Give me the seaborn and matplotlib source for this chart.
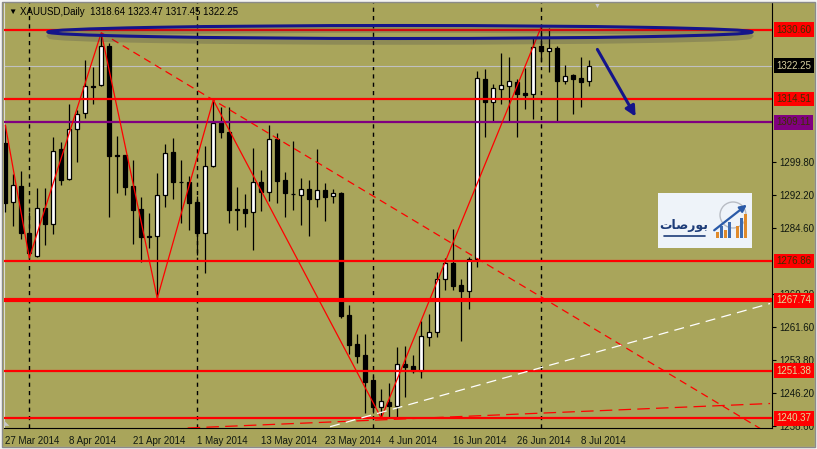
import numpy as np
import pandas as pd
import seaborn as sns
import matplotlib.pyplot as plt
from matplotlib.patches import Ellipse, Rectangle

# XAUUSD daily candles, 27 Mar 2014 .. 9 Jul 2014
opens = [1304.21, 1290.58, 1294.36, 1283.37, 1278.10, 1289.18, 1285.39, 1302.82, 1295.85, 1307.47,
         1311.18, 1317.41, 1317.69, 1326.89, 1301.43, 1301.43, 1294.29, 1288.95, 1282.63, 1282.75,
         1292.20, 1302.12, 1295.22, 1295.29, 1290.51, 1283.30, 1298.94, 1308.86, 1306.77, 1288.95,
         1288.95, 1288.18, 1295.15, 1292.83, 1305.14, 1295.69, 1292.50, 1292.27, 1293.60, 1291.34,
         1293.36, 1292.04, 1292.67, 1264.32, 1257.58, 1255.03, 1249.22, 1243.02, 1244.11, 1243.25,
         1252.94, 1252.47, 1251.38, 1259.28, 1260.30, 1272.62, 1276.33, 1271.29, 1269.97, 1277.26,
         1319.08, 1313.88, 1316.90, 1317.60, 1318.46, 1315.97, 1315.60, 1326.82, 1325.73, 1326.29,
         1318.76, 1320.08, 1319.39, 1318.64]
highs = [1308.47, 1297.08, 1297.78, 1288.32, 1293.83, 1293.83, 1305.75, 1304.52, 1313.35, 1311.95,
         1323.57, 1321.87, 1329.90, 1327.45, 1305.91, 1301.50, 1300.33, 1291.67, 1288.09, 1297.24,
         1303.98, 1305.38, 1300.33, 1296.69, 1291.97, 1303.59, 1314.27, 1312.72, 1312.72, 1293.99,
         1292.37, 1303.05, 1298.01, 1308.47, 1306.54, 1297.55, 1304.75, 1296.08, 1295.69, 1302.89,
         1294.99, 1293.67, 1292.90, 1266.65, 1259.91, 1259.84, 1250.15, 1247.06, 1248.45, 1256.96,
         1257.12, 1255.03, 1263.00, 1264.55, 1274.24, 1277.57, 1284.23, 1272.69, 1277.87, 1321.01,
         1321.41, 1317.99, 1325.13, 1324.20, 1319.08, 1321.71, 1328.61, 1331.30, 1330.90, 1326.89,
         1322.41, 1320.30, 1324.34, 1323.47]
lows = [1288.32, 1285.00, 1281.91, 1277.57, 1277.87, 1280.59, 1283.14, 1294.53, 1295.69, 1299.94,
        1310.02, 1313.35, 1317.53, 1287.16, 1292.74, 1292.20, 1280.82, 1276.71, 1279.82, 1268.20,
        1289.48, 1291.20, 1285.63, 1284.07, 1278.26, 1274.15, 1298.82, 1305.38, 1285.63, 1284.07,
        1284.84, 1279.42, 1288.55, 1290.88, 1290.41, 1287.16, 1288.72, 1285.23, 1282.75, 1289.48,
        1286.23, 1290.27, 1263.69, 1255.26, 1253.10, 1241.62, 1241.50, 1240.37, 1240.69, 1240.55,
        1245.34, 1250.92, 1249.75, 1257.12, 1259.28, 1270.13, 1270.13, 1258.35, 1265.79, 1275.40,
        1305.75, 1309.47, 1313.28, 1309.47, 1305.61, 1312.11, 1309.79, 1323.17, 1320.85, 1309.47,
        1317.99, 1311.02, 1312.72, 1317.45]
closes = [1290.41, 1294.53, 1283.30, 1278.80, 1289.18, 1285.46, 1302.43, 1295.69, 1307.54, 1311.02,
          1317.53, 1317.30, 1326.82, 1301.26, 1301.31, 1294.13, 1288.72, 1282.51, 1282.51, 1292.20,
          1302.03, 1295.29, 1295.11, 1290.41, 1283.30, 1298.94, 1308.86, 1306.77, 1288.72, 1288.81,
          1288.09, 1295.15, 1292.83, 1305.14, 1295.52, 1292.74, 1292.37, 1293.53, 1291.34, 1293.36,
          1291.81, 1292.60, 1264.16, 1257.35, 1254.80, 1248.82, 1243.02, 1244.34, 1243.25, 1252.87,
          1252.31, 1251.38, 1259.44, 1260.44, 1272.69, 1276.33, 1271.13, 1269.90, 1277.26, 1319.32,
          1313.88, 1316.99, 1317.69, 1318.62, 1315.74, 1315.51, 1326.66, 1325.73, 1326.29, 1318.76,
          1319.85, 1319.22, 1318.53, 1322.25]

red_levels = [1330.60, 1314.51, 1276.86, 1267.74, 1251.38, 1240.37]
red_widths = [1.6, 1.6, 1.6, 3.0, 1.6, 1.6]
purple_level = 1309.11
last_price = 1322.25
ytick_vals = [1299.80, 1292.20, 1284.60, 1269.20, 1261.60, 1253.80, 1246.20, 1238.60]

# zigzag pivots: bar index and whether it is a high or a low
zz_bars = [0, 3, 12, 19, 26, 47, 67]
zz_side = ['H', 'L', 'H', 'L', 'H', 'L', 'H']

# hand drawn trend lines (bar index, price)
white_tl_x = [40.6, 95.6]
white_tl_y = [1238.37, 1266.99]
red_tl_x = [22.8, 95.6]
red_tl_y = [1238.07, 1243.76]

dates = pd.bdate_range('2014-03-27', '2014-07-09')
dates = dates[dates != pd.Timestamp('2014-04-18')]

df = pd.DataFrame({'date': dates, 'open': opens, 'high': highs,
                   'low': lows, 'close': closes})
df['bar'] = np.arange(len(df))

bg = '#a9a55b'
sns.set_style('white', {'axes.facecolor': bg, 'figure.facecolor': bg})
plt.rcParams['font.family'] = ['Liberation Sans', 'DejaVu Sans']

fig = plt.figure(figsize=(8.17, 4.49), dpi=100)
ax = fig.add_axes([4 / 817, 21 / 449, 768 / 817, 426 / 449])
ax.set_xlim(-0.16, 95.84)
ax.set_ylim(1238.07, 1337.04)

# month separators
month_start = df.index[df['date'].dt.month != df['date'].dt.month.shift()][1:]
for b in month_start:
    ax.axvline(b, color='black', lw=1, ls=(0, (3, 3)), zorder=1)

# candles
up = df['close'] >= df['open']
ax.vlines(df['bar'], df['low'], df['high'], color='black', lw=0.9, zorder=3)
body_lo = np.minimum(df['open'], df['close'])
body_h = np.maximum((df['close'] - df['open']).abs(), 0.12)
ax.bar(df['bar'], body_h, bottom=body_lo, width=0.55,
       color=np.where(up, 'white', 'black'), edgecolor='black', lw=0.9, zorder=4)

# horizontal levels
for lvl, w in zip(red_levels, red_widths):
    ax.axhline(lvl, color='#ff0000', lw=w, zorder=5)
ax.axhline(purple_level, color='#800080', lw=1.6, zorder=5)
ax.axhline(last_price, color='#c0c0c0', lw=0.8, zorder=2)

# zigzag
zz = pd.DataFrame({'bar': zz_bars,
                   'price': [df['high'][b] if s == 'H' else df['low'][b]
                             for b, s in zip(zz_bars, zz_side)]})
sns.lineplot(data=zz, x='bar', y='price', sort=False, estimator=None,
             color='#ff0000', lw=0.9, ax=ax, zorder=6)

# resistance line through two zigzag highs, extended
x0, x1 = zz_bars[2], zz_bars[4]
y0, y1 = zz['price'][2], zz['price'][4]
slope = (y1 - y0) / (x1 - x0)
ax.plot([x0, 96], [y0, y0 + slope * (96 - x0)], color='#ff0000', lw=0.9,
        ls=(0, (6, 4)), zorder=6)
ax.plot(red_tl_x, red_tl_y, color='#ff0000', lw=0.9, ls=(0, (10, 5)), zorder=6)
ax.plot(white_tl_x, white_tl_y, color='white', lw=0.9, ls=(0, (8, 5)), zorder=6)

# axes styling
ax.spines['top'].set_visible(False)
ax.spines['left'].set_color('#d8d8d8')
ax.spines['right'].set_color('black')
ax.spines['bottom'].set_color('black')
ax.yaxis.tick_right()
ax.set_yticks(ytick_vals)
ax.set_yticklabels([f'{v:.2f}' for v in ytick_vals], fontsize=7, color='#101810')
xt = list(range(0, len(df), 8))
ax.set_xticks(xt)
ax.set_xticklabels([f"{d.day} {d.strftime('%b %Y')}" for d in df['date'][xt]],
                   fontsize=7, color='#101810', ha='left')
ax.tick_params(axis='both', length=3, width=0.8, color='black', pad=2, direction='out')
ax.tick_params(axis='x', pad=3)
ax.set_xlabel('')
ax.set_ylabel('')

# price boxes on the right scale
boxes = [(1330.60, '#ff0000', '#3c3000'), (last_price, 'black', '#d8d0a0'),
         (1314.51, '#ff0000', '#3c3000'), (purple_level, '#800080', '#3c3000'),
         (1276.86, '#ff0000', '#3c3000'), (1267.74, '#ff0000', '#e0d898'),
         (1251.38, '#ff0000', '#e0d898'), (1240.37, '#ff0000', '#e0d898')]
ytr = ax.get_yaxis_transform()
for v, fc, tc in boxes:
    ax.text(1.006, v, f'{v:.2f}', transform=ytr, fontsize=7, color=tc,
            va='center', ha='left', clip_on=False, zorder=10,
            bbox=dict(boxstyle='square,pad=0.25', fc=fc, ec='none'))


def axf(px, py):
    return (px - 4) / 768, 1 - (py - 2) / 426


# header
ax.text(*axf(8, 12), '\u25bc', transform=ax.transAxes, fontsize=6, va='center', color='black')
last = df.iloc[-1]
ax.text(*axf(20, 12),
        f"XAUUSD,Daily  {last['open']:.2f} {last['high']:.2f} {last['low']:.2f} {last['close']:.2f}",
        transform=ax.transAxes, fontsize=7, va='center', color='black', zorder=10)
ax.text(*axf(597, 6), '\u25bc', transform=ax.transAxes, fontsize=5, va='center',
        ha='center', color='#c8c8c8')
ax.text(*axf(7, 423), '\u25e3', transform=ax.transAxes, fontsize=5, va='center',
        ha='center', color='#c8c8c8', family='DejaVu Sans')

# blue ellipse with shadow and arrow
cx, cy = axf(400, 32)
ax.add_patch(Ellipse((cx, cy - 4 / 426), 700 / 768, 12 / 426, transform=ax.transAxes,
                     fill=False, ec='#303048', lw=4, alpha=0.22, zorder=7))
ax.add_patch(Ellipse((cx, cy), 704 / 768, 13 / 426, transform=ax.transAxes,
                     fill=False, ec='#14148a', lw=2.2, zorder=8))
ax.annotate('', xy=axf(637, 119), xytext=axf(596, 47), xycoords='axes fraction',
            arrowprops=dict(arrowstyle='-|>,head_length=0.6,head_width=0.3',
                            color='#14148a', lw=2.2), zorder=8)

# logo
lx0, ly0 = axf(658, 248)
lx1, ly1 = axf(752, 193)
ax.add_patch(Rectangle((lx0, ly0), lx1 - lx0, ly1 - ly0, transform=ax.transAxes,
                       fc='#eef3f9', ec='none', zorder=9))
ax.add_patch(Ellipse(axf(733, 215), 26 / 768, 26 / 426, transform=ax.transAxes,
                     fill=False, ec='#b8bcc4', lw=1.0, zorder=9))
bar_px = [(716, 232, '#e08a2a'), (720, 226, '#3c6ab0'), (724, 230, '#e08a2a'),
          (728, 222, '#3c6ab0'), (736, 226, '#e08a2a'), (740, 218, '#3c6ab0'),
          (744, 214, '#e08a2a')]
for bx, by, bc in bar_px:
    x_a, y_a = axf(bx, by)
    _, y_b = axf(bx, 238)
    ax.add_patch(Rectangle((x_a, y_b), 2.5 / 768, y_a - y_b, transform=ax.transAxes,
                           fc=bc, ec='none', zorder=9))
ax.annotate('', xy=axf(749, 203), xytext=axf(712, 232), xycoords='axes fraction',
            arrowprops=dict(arrowstyle='-|>,head_length=0.4,head_width=0.2',
                            color='#2a5aa8', lw=1.6), zorder=10)
ax.text(*axf(684, 226), '\ufe95\ufe8e\ufebb\ufead\ufeee\ufe91', transform=ax.transAxes,
        family='DejaVu Sans', fontsize=9, fontweight='bold', color='#1d3c78',
        ha='center', va='center', zorder=10)
ax.plot([axf(664, 0)[0], axf(705, 0)[0]], [axf(0, 236)[1]] * 2, transform=ax.transAxes,
        color='#1d3c78', lw=1.2, zorder=10)

# window frame
fig.add_artist(Rectangle((0, 0), 1, 1, transform=fig.transFigure, fill=False,
                         ec='#f4f4f4', lw=3))
fig.add_artist(Rectangle((2 / 817, 2 / 449), 813 / 817, 445 / 449, transform=fig.transFigure,
                         fill=False, ec='#8a8a8a', lw=1))

fig.savefig('out.png', dpi=100)
